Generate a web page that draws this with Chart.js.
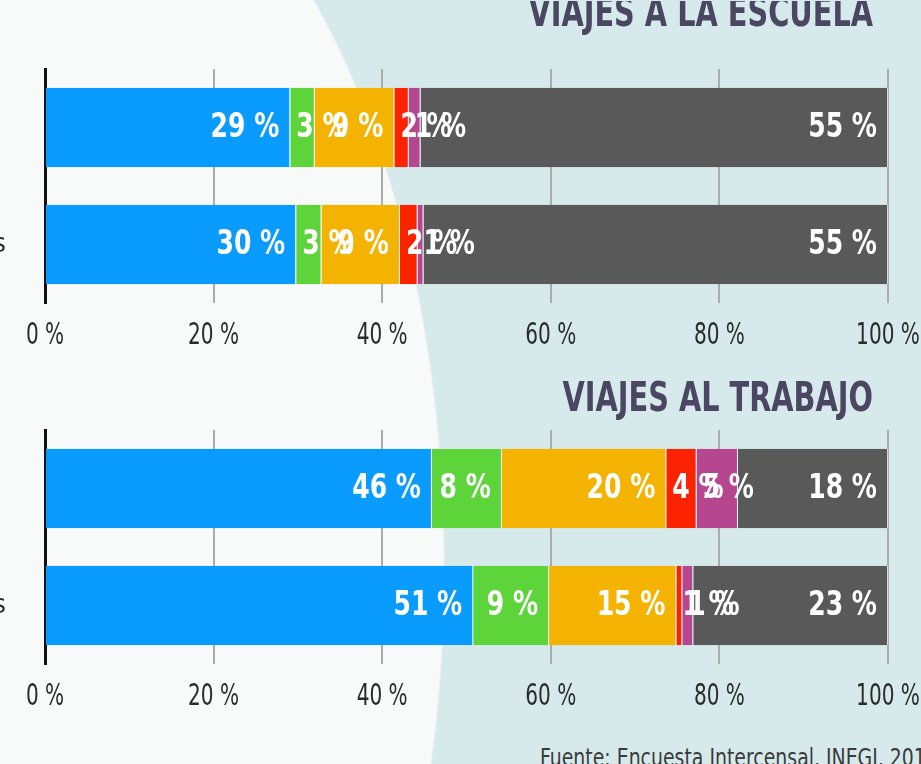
<!DOCTYPE html>
<html lang="es">
<head>
<meta charset="utf-8">
<script src="https://cdn.jsdelivr.net/npm/chart.js@4.4.1/dist/chart.umd.min.js"></script>
<style>
  html, body { margin: 0; padding: 0; }
  body {
    width: 921px; height: 764px; overflow: hidden; position: relative;
    background: radial-gradient(400px 769px at 45px 568px, #f8f9f9 99.6%, #d6eaec 100%);
  }
  .wrap { position: absolute; left: -75px; width: 1040px; height: 370px; }
  #w1 { top: 1px; }
  #w2 { top: 362px; }
  .source {
    position: absolute; left: 540px; top: 745px; white-space: nowrap;
    font: 25px/25px 'DejaVu Sans Condensed', 'DejaVu Sans', sans-serif; color: #3a3a3a;
    transform: scaleX(0.84); transform-origin: 0 0;
  }
</style>
</head>
<body>
<div class="wrap" id="w1"><canvas id="c1"></canvas></div>
<div class="wrap" id="w2"><canvas id="c2"></canvas></div>
<div class="source">Fuente: Encuesta Intercensal, INEGI, 2015.</div>
<script>
// Modos de transporte (segmentos de cada barra)
const modes = ['Transporte público', 'Automóvil', 'Bicicleta', 'Motocicleta', 'Otro', 'A pie'];
const modeColors = ['#0a9bff', '#5cd43a', '#f5b301', '#fb2300', '#b5468f', '#595959'];

// Filas de cada gráfica (etiquetas del eje vertical)
const rowLabels = ['', 'Hombres'];

// Porcentaje de viajes a la escuela por modo: [fila 1, fila 2]
const schoolTransit = [29.1, 29.8];
const schoolCar     = [2.9, 3.0];
const schoolBike    = [9.45, 9.3];
const schoolMoto    = [1.7, 2.1];
const schoolOther   = [1.4, 0.7];
const schoolWalk    = [55.45, 55.1];

// Porcentaje de viajes al trabajo por modo: [fila 1, fila 2]
const workTransit = [45.9, 50.8];
const workCar     = [8.3, 9.0];
const workBike    = [19.5, 15.1];
const workMoto    = [3.6, 0.7];
const workOther   = [4.9, 1.3];
const workWalk    = [17.8, 23.1];

// Marcas del eje horizontal
const axisTicks = [0, 20, 40, 60, 80, 100];

const COND = "'DejaVu Sans Condensed', 'DejaVu Sans', sans-serif";

// Texto comprimido horizontalmente
function condensedText(ctx, text, x, y, sx, align) {
  ctx.save();
  ctx.translate(x, y);
  ctx.scale(sx, 1);
  ctx.textAlign = align;
  ctx.fillText(text, 0, 0);
  ctx.restore();
}

// Etiquetas blancas dentro de cada segmento, alineadas al final del segmento
const segmentLabels = {
  id: 'segmentLabels',
  afterDatasetsDraw(chart) {
    const ctx = chart.ctx;
    const sx = 0.82;
    ctx.save();
    ctx.font = 'bold 34px ' + COND;
    ctx.fillStyle = '#ffffff';
    ctx.textBaseline = 'middle';
    chart.data.datasets.forEach((ds, i) => {
      const meta = chart.getDatasetMeta(i);
      meta.data.forEach((bar, j) => {
        const text = Math.round(ds.data[j]) + ' %';
        const w = ctx.measureText(text).width * sx;
        const start = Math.min(bar.base, bar.x);
        const end = Math.max(bar.base, bar.x);
        const x = Math.max(end - 11 - w, start + 6);
        condensedText(ctx, text, x, bar.y + 1, sx, 'left');
      });
    });
    ctx.restore();
  }
};

// Rótulos del eje horizontal y encabezado de cada gráfica
const axisText = {
  id: 'axisText',
  afterDraw(chart, args, opts) {
    const ctx = chart.ctx;
    const xs = chart.scales.x;
    const area = chart.chartArea;
    ctx.save();
    ctx.fillStyle = '#2b2b2b';
    ctx.font = '31px ' + COND;
    ctx.textBaseline = 'middle';
    axisTicks.forEach(v => {
      condensedText(ctx, v + ' %', xs.getPixelForValue(v), area.bottom + 33, 0.72, 'center');
    });
    ctx.font = 'bold 40px ' + COND;
    ctx.fillStyle = '#4b4662';
    ctx.textBaseline = 'alphabetic';
    condensedText(ctx, opts.text, area.right - 15, opts.baseline, 0.8, 'right');
    ctx.restore();
  }
};

function buildDatasets(series) {
  return series.map((values, i) => ({
    label: modes[i],
    data: values,
    backgroundColor: modeColors[i],
    borderColor: 'rgba(255,255,255,0.55)',
    borderWidth: { top: 0, bottom: 0, left: 0, right: 1 },
    borderSkipped: false,
    barPercentage: 0.68,
    categoryPercentage: 1
  }));
}

function makeChart(id, series, title, baseline) {
  return new Chart(document.getElementById(id), {
    type: 'bar',
    data: { labels: rowLabels, datasets: buildDatasets(series) },
    plugins: [segmentLabels, axisText],
    options: {
      indexAxis: 'y',
      responsive: true,
      maintainAspectRatio: false,
      animation: false,
      layout: { padding: { top: 68, right: 77, bottom: 0, left: 0 } },
      plugins: {
        legend: { display: false },
        tooltip: { enabled: false },
        axisText: { text: title, baseline: baseline }
      },
      scales: {
        x: {
          stacked: true,
          min: 0, max: 100,
          afterBuildTicks(scale) { scale.ticks = axisTicks.map(v => ({ value: v })); },
          afterFit(scale) { scale.height = 68; },
          grid: { color: '#ababab', lineWidth: 2, drawTicks: false },
          border: { display: false },
          ticks: { display: false }
        },
        y: {
          stacked: true,
          afterFit(scale) { scale.width = 120; },
          grid: { display: false, drawTicks: false },
          border: { display: true, color: '#111111', width: 3 },
          ticks: {
            padding: 39,
            color: '#2b2b2b',
            font: { family: COND, size: 27 }
          }
        }
      }
    }
  });
}

makeChart('c1',
  [schoolTransit, schoolCar, schoolBike, schoolMoto, schoolOther, schoolWalk],
  'VIAJES A LA ESCUELA', 25);
makeChart('c2',
  [workTransit, workCar, workBike, workMoto, workOther, workWalk],
  'VIAJES AL TRABAJO', 49);
</script>
</body>
</html>
